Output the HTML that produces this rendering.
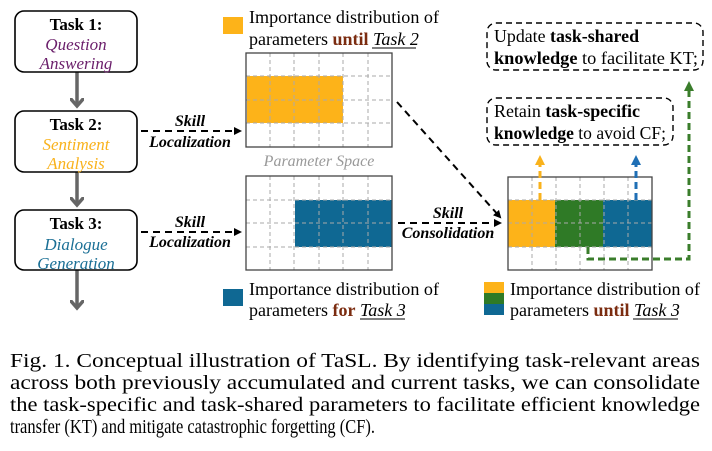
<!DOCTYPE html>
<html><head><meta charset="utf-8"><style>
html,body{margin:0;padding:0;background:#fff;}
svg{display:block;font-family:"Liberation Serif",serif;}
</style></head><body>
<svg width="712" height="451" viewBox="0 0 712 451" xmlns="http://www.w3.org/2000/svg">
<defs>
<marker id="ah" markerWidth="8" markerHeight="8" refX="6" refY="4" orient="auto" markerUnits="userSpaceOnUse"><path d="M0,0 L8,4 L0,8 Z" fill="#000"/></marker>
<marker id="ag" markerWidth="16" markerHeight="14" refX="8" refY="7" orient="auto" markerUnits="userSpaceOnUse"><path d="M0,0 L8,7 L0,14" fill="none" stroke="#666" stroke-width="3.5"/></marker>
<marker id="ao" markerWidth="10" markerHeight="10" refX="5" refY="5" orient="auto" markerUnits="userSpaceOnUse"><path d="M0,0 L10,5 L0,10 Z" fill="#f9b21c"/></marker>
<marker id="ab" markerWidth="10" markerHeight="10" refX="5" refY="5" orient="auto" markerUnits="userSpaceOnUse"><path d="M0,0 L10,5 L0,10 Z" fill="#1f6fb5"/></marker>
<marker id="agr" markerWidth="10" markerHeight="10" refX="5" refY="5" orient="auto" markerUnits="userSpaceOnUse"><path d="M0,0 L10,5 L0,10 Z" fill="#3a7d2b"/></marker>
</defs>

<g stroke="#666" stroke-width="3.5" fill="none">
<line x1="77" y1="72" x2="77" y2="106" marker-end="url(#ag)"/>
<line x1="77" y1="172" x2="77" y2="205" marker-end="url(#ag)"/>
<line x1="77" y1="270" x2="77" y2="308" marker-end="url(#ag)"/>
</g>

<g fill="#fff" stroke="#000" stroke-width="1.6">
<rect x="15" y="11" width="122" height="61" rx="9"/>
<rect x="15" y="111" width="122" height="61" rx="9"/>
<rect x="15" y="210" width="122" height="60" rx="9"/>
</g>
<g font-size="17" text-anchor="middle">
<text x="76" y="30" font-weight="bold">Task 1:</text>
<text x="76" y="50" font-style="italic" fill="#6b1f6b">Question</text>
<text x="76" y="69" font-style="italic" fill="#6b1f6b">Answering</text>
<text x="76" y="130" font-weight="bold">Task 2:</text>
<text x="76" y="150" font-style="italic" fill="#f9b21c">Sentiment</text>
<text x="76" y="169" font-style="italic" fill="#f9b21c">Analysis</text>
<text x="76" y="229" font-weight="bold">Task 3:</text>
<text x="76" y="250" font-style="italic" fill="#1a6f95">Dialogue</text>
<text x="76" y="269" font-style="italic" fill="#1a6f95">Generation</text>
</g>

<g stroke="#000" stroke-width="2" stroke-dasharray="7,5" fill="none">
<line x1="141" y1="131" x2="240" y2="131" marker-end="url(#ah)"/>
<line x1="141" y1="232" x2="240" y2="232" marker-end="url(#ah)"/>
<line x1="398" y1="223" x2="500" y2="223" marker-end="url(#ah)"/>
<line x1="397" y1="102" x2="500" y2="217" marker-end="url(#ah)"/>
</g>
<g font-size="16" font-weight="bold" font-style="italic" text-anchor="middle">
<text x="190" y="126">Skill</text>
<text x="190" y="147">Localization</text>
<text x="190" y="227">Skill</text>
<text x="190" y="247">Localization</text>
<text x="448" y="218">Skill</text>
<text x="448" y="238">Consolidation</text>
</g>

<rect x="247" y="76" width="96" height="47" fill="#fdb319"/>
<rect x="295" y="200" width="97" height="47" fill="#0f6893"/>
<rect x="508" y="200" width="47" height="47" fill="#fdb319"/>
<rect x="555" y="200" width="48" height="47" fill="#2f7a26"/>
<rect x="603" y="200" width="49" height="47" fill="#0f6893"/>

<g stroke="#aaa" stroke-width="1" stroke-dasharray="4,3">
<path d="M270,53V147M294,53V147M319,53V147M343,53V147M368,53V147M246,76H392M246,100H392M246,123H392"/>
<path d="M270,176V270M294,176V270M319,176V270M343,176V270M368,176V270M246,200H392M246,223H392M246,247H392"/>
<path d="M532,177V270M556,177V270M580,177V270M604,177V270M628,177V270M508,200H652M508,223H652M508,247H652"/>
</g>
<g fill="none" stroke="#444" stroke-width="1.3">
<rect x="246" y="53" width="146" height="94"/>
<rect x="246" y="176" width="146" height="94"/>
<rect x="508" y="177" width="144" height="93"/>
</g>

<text x="319" y="166" text-anchor="middle" font-size="16" font-style="italic" fill="#999">Parameter Space</text>

<rect x="223" y="17" width="20" height="17" fill="#fdb319"/>
<text x="249" y="23" font-size="18" textLength="190" lengthAdjust="spacingAndGlyphs">Importance distribution of</text>
<text x="249" y="45" font-size="18">parameters <tspan font-weight="bold" fill="#7b2c10">until</tspan> <tspan font-style="italic">Task 2</tspan></text>
<line x1="372" y1="48" x2="416" y2="48" stroke="#000" stroke-width="1"/>

<rect x="223" y="289" width="20" height="17" fill="#0f6893"/>
<text x="249" y="295" font-size="18" textLength="190" lengthAdjust="spacingAndGlyphs">Importance distribution of</text>
<text x="249" y="316" font-size="18">parameters <tspan font-weight="bold" fill="#7b2c10">for</tspan> <tspan font-style="italic">Task 3</tspan></text>
<line x1="360" y1="319" x2="405" y2="319" stroke="#000" stroke-width="1"/>

<rect x="484" y="282" width="20" height="11" fill="#fdb319"/>
<rect x="484" y="293" width="20" height="11" fill="#2f7a26"/>
<rect x="484" y="304" width="20" height="11" fill="#0f6893"/>
<text x="510" y="295" font-size="18" textLength="190" lengthAdjust="spacingAndGlyphs">Importance distribution of</text>
<text x="510" y="316" font-size="18">parameters <tspan font-weight="bold" fill="#7b2c10">until</tspan> <tspan font-style="italic">Task 3</tspan></text>
<line x1="633" y1="319" x2="678" y2="319" stroke="#000" stroke-width="1"/>

<g fill="none" stroke-width="3" stroke-dasharray="7,4">
<line x1="540" y1="200" x2="540" y2="160" stroke="#f9b21c" marker-end="url(#ao)"/>
<line x1="636" y1="200" x2="636" y2="160" stroke="#1f6fb5" marker-end="url(#ab)"/>
<polyline points="588,247 588,259 689,259 689,86" stroke="#3a7d2b" marker-end="url(#agr)"/>
</g>

<g fill="#fff" stroke="#000" stroke-width="1.4" stroke-dasharray="6,4">
<rect x="487" y="23" width="216" height="47" rx="9"/>
<rect x="487" y="98" width="186" height="47" rx="9"/>
</g>
<g font-size="18">
<text x="494" y="42" textLength="145" lengthAdjust="spacingAndGlyphs">Update <tspan font-weight="bold">task-shared</tspan></text>
<text x="494" y="64" textLength="204" lengthAdjust="spacingAndGlyphs"><tspan font-weight="bold">knowledge</tspan> to facilitate KT;</text>
<text x="494" y="117" textLength="146" lengthAdjust="spacingAndGlyphs">Retain <tspan font-weight="bold">task-specific</tspan></text>
<text x="494" y="139" textLength="172" lengthAdjust="spacingAndGlyphs"><tspan font-weight="bold">knowledge</tspan> to avoid CF;</text>
</g>

<g font-size="20">
<text x="10" y="367" textLength="690" lengthAdjust="spacingAndGlyphs">Fig. 1.    Conceptual illustration of TaSL. By identifying task-relevant areas</text>
<text x="10" y="389" textLength="690" lengthAdjust="spacingAndGlyphs">across both previously accumulated and current tasks, we can consolidate</text>
<text x="10" y="411" textLength="690" lengthAdjust="spacingAndGlyphs">the task-specific and task-shared parameters to facilitate efficient knowledge</text>
<text x="10" y="433" textLength="365" lengthAdjust="spacingAndGlyphs">transfer (KT) and mitigate catastrophic forgetting (CF).</text>
</g>
</svg>
</body></html>
